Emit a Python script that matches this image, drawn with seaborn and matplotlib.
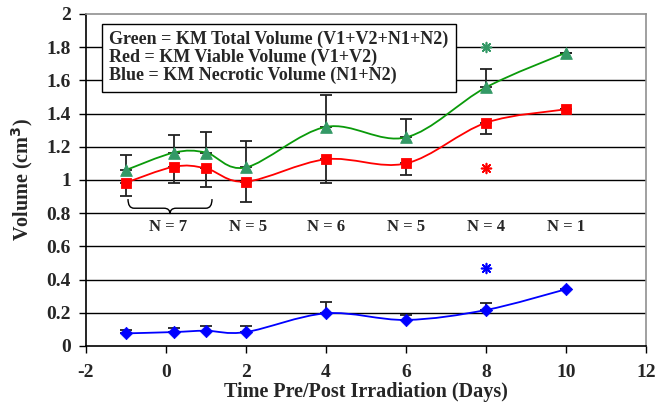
import numpy as np
import pandas as pd
import matplotlib
matplotlib.use("Agg")
import matplotlib.pyplot as plt
from matplotlib.path import Path
from matplotlib.patches import PathPatch
import seaborn as sns

# ---- data ----
days = [-1, 0.2, 1, 2, 4, 6, 8, 10]
total_vol = [1.06, 1.165, 1.165, 1.076, 1.32, 1.257, 1.558, 1.767]
total_err_up = [0.09, 0.105, 0.125, 0.16, 0.195, 0.112, 0.112, 0.0]
viable_vol = [0.984, 1.08, 1.07, 0.99, 1.125, 1.10, 1.345, 1.426]
viable_err_dn = [0.08, 0.096, 0.11, 0.123, 0.141, 0.072, 0.068, 0.0]
necrotic_vol = [0.076, 0.084, 0.092, 0.084, 0.197, 0.157, 0.217, 0.342]
necrotic_err_up = [0.02, 0.024, 0.027, 0.035, 0.07, 0.032, 0.044, 0.0]

n_labels = ["N = 7", "N = 5", "N = 6", "N = 5", "N = 4", "N = 1"]
n_x = [0.05, 2.05, 4.0, 6.0, 8.0, 10.0]
n_y = 0.715

star_x = [8, 8, 8]
star_y = [1.80, 1.07, 0.47]

legend_lines = ["Green = KM Total Volume (V1+V2+N1+N2)",
                "Red = KM Viable Volume (V1+V2)",
                "Blue = KM Necrotic Volume (N1+N2)"]

x_ticks = [-2, 0, 2, 4, 6, 8, 10, 12]
y_ticks = [0, 0.2, 0.4, 0.6, 0.8, 1, 1.2, 1.4, 1.6, 1.8, 2]

GREEN_LINE = "#0a9a0a"
GREEN_MK = "#339966"
RED = "#ff0000"
BLUE = "#0000ff"

sns.set_style("white")
plt.rcParams["font.family"] = ["Liberation Serif", "DejaVu Serif"]
plt.rcParams["font.weight"] = "bold"

fig = plt.figure(figsize=(6.56, 4.09), dpi=100)
ax = fig.add_axes([86/656, 63/409, 560/656, 332/409])

df = pd.DataFrame({"day": days, "total": total_vol, "viable": viable_vol,
                   "necrotic": necrotic_vol})


def smooth_path(xs, ys):
    pts = np.column_stack([xs, ys]).astype(float)
    n = len(pts)
    verts = [pts[0]]
    codes = [Path.MOVETO]
    for i in range(n - 1):
        p0 = pts[i - 1] if i > 0 else pts[i]
        p1 = pts[i]
        p2 = pts[i + 1]
        p3 = pts[i + 2] if i + 2 < n else pts[i + 1]
        c1 = p1 + (p2 - p0) / 6.0
        c2 = p2 - (p3 - p1) / 6.0
        verts += [c1, c2, p2]
        codes += [Path.CURVE4] * 3
    return Path(verts, codes)


# gridlines
for yv in y_ticks[1:-1]:
    ax.axhline(yv, color="black", lw=1.0, zorder=1)

# smooth lines
for ys, col in [(total_vol, GREEN_LINE), (viable_vol, RED), (necrotic_vol, BLUE)]:
    ax.add_patch(PathPatch(smooth_path(days, ys), fill=False, edgecolor=col,
                           lw=1.3, transform=ax.transData, zorder=3))

# error bars
kw = dict(fmt="none", ecolor="#222222", elinewidth=1.3, capsize=4, capthick=1.3, zorder=2)
ax.errorbar(days, total_vol, yerr=[np.zeros(len(days)), total_err_up], **kw)
ax.errorbar(days, viable_vol, yerr=[viable_err_dn, np.zeros(len(days))], **kw)
ax.errorbar(days, necrotic_vol, yerr=[np.zeros(len(days)), necrotic_err_up], **kw)

# markers
sns.scatterplot(data=df, x="day", y="total", marker="^", s=70, color=GREEN_MK,
                edgecolor=GREEN_MK, ax=ax, zorder=4)
sns.scatterplot(data=df, x="day", y="viable", marker="s", s=55, color=RED,
                edgecolor=RED, ax=ax, zorder=4)
sns.scatterplot(data=df, x="day", y="necrotic", marker="D", s=40, color=BLUE,
                edgecolor=BLUE, ax=ax, zorder=4)

# asterisks
for sx, sy, col in zip(star_x, star_y, [GREEN_MK, RED, BLUE]):
    ax.scatter([sx], [sy], marker=(8, 2, 0), s=50, color=col, lw=1.2, zorder=5)

# N labels
for lab, xv in zip(n_labels, n_x):
    ax.text(xv, n_y, lab, ha="center", va="center", fontsize=12, fontweight="bold",
            zorder=5)

# curly brace from -0.95 to 1.15
x0, x1, xm = -0.95, 1.15, 0.1
yt, yb, ytip = 0.885, 0.83, 0.795
r = 0.15
brace = Path([(x0, yt), (x0, yb), (x0 + r, yb), (xm - r, yb), (xm, yb), (xm, ytip),
              (xm, yb), (xm + r, yb), (x1 - r, yb), (x1, yb), (x1, yt)],
             [Path.MOVETO, Path.CURVE3, Path.CURVE3, Path.LINETO, Path.CURVE3, Path.CURVE3,
              Path.CURVE3, Path.CURVE3, Path.LINETO, Path.CURVE3, Path.CURVE3])
ax.add_patch(PathPatch(brace, fill=False, edgecolor="black", lw=1.0, zorder=3))

# legend box
ax.text(-1.42, 1.737, "\n".join(legend_lines), ha="left", va="center", fontsize=13,
        fontweight="bold", linespacing=1.06, zorder=6,
        bbox=dict(boxstyle="square,pad=0.4", facecolor="white", edgecolor="black", lw=1.0))

ax.set_xlim(-2, 12)
ax.set_ylim(0, 2)
ax.set_xticks(x_ticks)
ax.set_yticks(y_ticks)
ax.set_xticklabels([str(v) for v in x_ticks], fontsize=14, fontweight="bold")
ax.set_yticklabels(["%g" % v for v in y_ticks], fontsize=14, fontweight="bold")
ax.tick_params(axis="both", direction="out", length=5, width=1, color="black",
               bottom=True, left=True)
ax.tick_params(axis="x", pad=8)
ax.tick_params(axis="y", pad=6)
ax.set_xlabel("Time Pre/Post Irradiation (Days)", fontsize=14.5, fontweight="bold",
              labelpad=1)
ax.set_ylabel("Volume (cm$^\\mathbf{3}$)", fontsize=14.5, fontweight="bold", labelpad=8)

for s in ["left", "bottom"]:
    ax.spines[s].set_color("black")
    ax.spines[s].set_linewidth(1.2)
for s in ["top", "right"]:
    ax.spines[s].set_color("#909090")
    ax.spines[s].set_linewidth(1.2)

fig.savefig("out.png", dpi=100)
